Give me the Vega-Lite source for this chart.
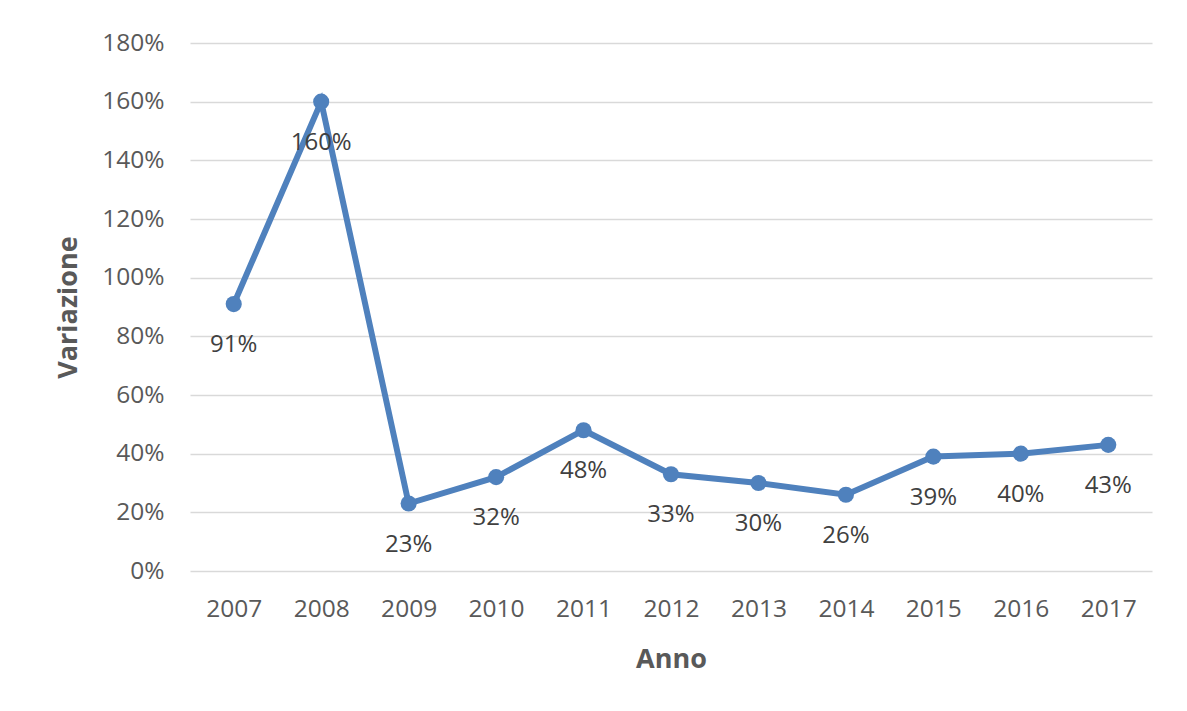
{
  "$schema": "https://vega.github.io/schema/vega-lite/v6.json",
  "autosize": "none",
  "width": 962,
  "height": 528,
  "padding": {"left": 190, "top": 43, "right": 35, "bottom": 140},
  "background": "white",
  "config": {"view": {"stroke": null}, "font": "Open Sans"},
  "data": {"values": [
    {"anno": "2007", "v": 0.91},
    {"anno": "2008", "v": 1.60},
    {"anno": "2009", "v": 0.23},
    {"anno": "2010", "v": 0.32},
    {"anno": "2011", "v": 0.48},
    {"anno": "2012", "v": 0.33},
    {"anno": "2013", "v": 0.30},
    {"anno": "2014", "v": 0.26},
    {"anno": "2015", "v": 0.39},
    {"anno": "2016", "v": 0.40},
    {"anno": "2017", "v": 0.43}
  ]},
  "encoding": {
    "x": {"field": "anno", "type": "ordinal", "scale": {"type": "point", "padding": 0.5},
      "axis": {"title": "Anno", "labelAngle": 0, "domain": false, "ticks": false, "grid": false,
        "labelFont": "Open Sans", "labelFontSize": 24.5, "labelColor": "#595959", "labelPadding": 26,
        "titleFont": "Open Sans", "titleFontSize": 27, "titleFontWeight": "bold", "titleColor": "#595959", "titlePadding": 26}},
    "y": {"field": "v", "type": "quantitative", "scale": {"domain": [0, 1.8], "nice": false},
      "axis": {"title": "Variazione", "format": ".0%", "values": [0,0.2,0.4,0.6,0.8,1.0,1.2,1.4,1.6,1.8],
        "domain": false, "ticks": false, "gridColor": "#d9d9d9", "gridWidth": 1.5,
        "labelFont": "Open Sans", "labelFontSize": 24.5, "labelColor": "#595959", "labelPadding": 26,
        "titleFont": "Open Sans", "titleFontSize": 27, "titleFontWeight": "bold", "titleColor": "#595959", "titlePadding": 19}}
  },
  "layer": [
    {"mark": {"type": "line", "color": "#4f81bd", "strokeWidth": 6, "point": {"filled": true, "size": 260, "color": "#4f81bd", "opacity": 1}}},
    {"mark": {"type": "text", "dy": 41, "baseline": "middle", "align": "center", "fontSize": 24, "font": "Open Sans", "color": "#404040"},
      "encoding": {"text": {"field": "v", "type": "quantitative", "format": ".0%"}}}
  ]
}
